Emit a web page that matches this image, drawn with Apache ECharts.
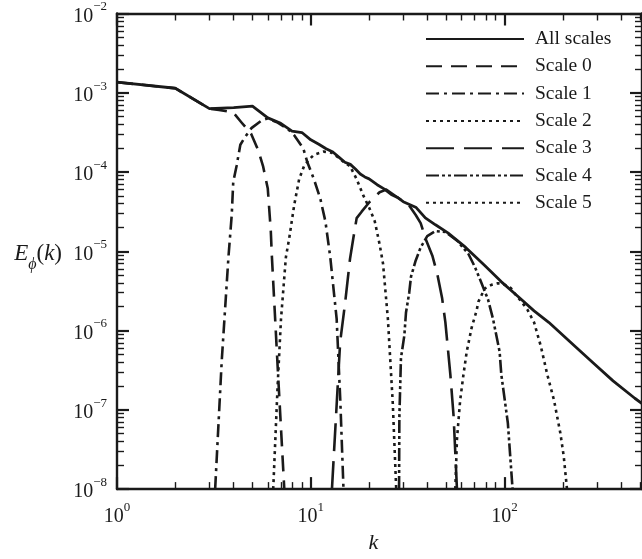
<!DOCTYPE html>
<html>
<head>
<meta charset="utf-8">
<script src="https://cdn.jsdelivr.net/npm/echarts@6/dist/echarts.min.js"></script>
<style>
  html, body { margin: 0; padding: 0; background: #fff; }
  #chart { width: 642px; height: 559px; }
</style>
</head>
<body>
<div id="chart"></div>
<script>
// Energy spectrum E_phi(k): total and per-scale contributions, [k, E] pairs
const allScales = [
  [1, 1.36e-3], [2, 1.14e-3], [3, 6.3e-4], [4, 6.5e-4], [5, 6.78e-4], [6, 4.82e-4],
  [7, 4.12e-4], [8, 3.29e-4], [9, 3.15e-4], [10, 2.55e-4], [11, 2.24e-4], [12, 1.97e-4],
  [13, 1.79e-4], [14, 1.53e-4], [15, 1.33e-4], [16, 1.25e-4], [17, 1.09e-4], [18, 9.45e-5],
  [19, 8.67e-5], [20, 8.2e-5], [22, 6.92e-5], [24, 6.09e-5], [26, 5.21e-5], [28, 4.78e-5],
  [30, 4.22e-5], [35, 3.56e-5], [39, 2.64e-5], [44, 2.16e-5], [51, 1.71e-5], [63, 1.12e-5],
  [79, 6.64e-6], [96, 4.15e-6], [117, 2.71e-6], [142, 1.77e-6], [169, 1.27e-6], [227, 6.57e-7],
  [287, 3.9e-7], [363, 2.32e-7], [470, 1.4e-7], [512, 1.2e-7]
];
const scale0 = [
  [1, 1.36e-3], [2, 1.14e-3], [3, 6.3e-4], [3.36, 6.08e-4], [3.98, 5.64e-4], [4.38, 4.25e-4],
  [4.92, 3.05e-4], [5.34, 1.92e-4], [5.67, 1.19e-4], [6.0, 6.18e-5], [6.22, 1.78e-5],
  [6.29, 9.2e-6], [6.75, 3.4e-7], [7.3, 1.0e-8]
];
const scale1 = [
  [3.21, 1.0e-8], [3.47, 4.1e-7], [3.76, 8.5e-6], [3.91, 2.9e-5], [3.98, 7.5e-5], [4.14, 1.19e-4],
  [4.33, 2.21e-4], [4.58, 2.77e-4], [4.94, 3.58e-4], [5.55, 4.43e-4], [6.0, 4.75e-4],
  [6.75, 4.2e-4], [7.6, 3.5e-4], [8.21, 2.91e-4], [9.16, 1.97e-4], [9.6, 1.33e-4],
  [10.38, 8.13e-5], [11.2, 4.61e-5], [11.9, 2.38e-5], [12.6, 8.5e-6], [13.6, 1.4e-6],
  [14.2, 1.32e-7], [14.75, 1.0e-8]
];
const scale2 = [
  [6.4, 1.0e-8], [6.75, 2.12e-7], [7.02, 1.4e-6], [7.44, 8.43e-6], [7.75, 1.49e-5],
  [8.21, 3.82e-5], [8.71, 8.13e-5], [9.23, 1.19e-4], [9.79, 1.43e-4], [10.38, 1.65e-4],
  [11.67, 1.81e-4], [12.86, 1.75e-4], [14, 1.5e-4], [15, 1.3e-4], [15.94, 1.19e-4],
  [17.25, 8.13e-5], [18.66, 5.07e-5], [20.1, 3.47e-5], [21.4, 2.38e-5], [22.65, 1.23e-5],
  [23.6, 6.97e-6], [25.0, 1.4e-6], [26.5, 1.2e-7], [27.6, 1.0e-8]
];
const scale3 = [
  [12.86, 1.0e-8], [13.64, 1.32e-7], [14.18, 7.21e-7], [15.04, 2.24e-6], [15.94, 8.03e-6],
  [16.6, 1.49e-5], [17.25, 2.62e-5], [18.3, 3.16e-5], [20.1, 4.19e-5], [22.65, 5.56e-5],
  [24.5, 6.0e-5], [27.6, 4.92e-5], [32.1, 3.82e-5], [34.8, 2.87e-5], [36.9, 2.27e-5],
  [39.2, 1.42e-5], [42.4, 8.8e-6], [44.9, 5.25e-6], [47.6, 2.58e-6], [49.5, 1.27e-6],
  [52.5, 2.81e-7], [54.6, 8.2e-8], [56.8, 1.0e-8]
];
const scale4 = [
  [28.55, 1.0e-8], [28.65, 8.0e-8], [29.2, 4.5e-7], [30.4, 8.7e-7], [31.0, 1.69e-6],
  [32.2, 2.98e-6], [32.9, 4.78e-6], [34.8, 7.66e-6], [36.9, 1.12e-5], [39.9, 1.55e-5],
  [44.0, 1.8e-5], [49.5, 1.75e-5], [57, 1.36e-5], [65.1, 9.25e-6], [70.3, 6.34e-6],
  [76.1, 3.95e-6], [82.2, 2.46e-6], [87.2, 1.4e-6], [94.3, 5.4e-7], [96.2, 2.8e-7],
  [104, 6.8e-8], [110, 1.0e-8]
];
const scale5 = [
  [55.7, 1.0e-8], [56.8, 4.25e-8], [59.0, 1.32e-7], [61.4, 2.81e-7], [63.8, 5.43e-7],
  [67.7, 1.1e-6], [71.8, 1.8e-6], [73.2, 2.3e-6], [79.1, 3.4e-6], [85.5, 3.77e-6],
  [92.3, 3.95e-6], [100, 3.8e-6], [107.9, 3.43e-6], [112, 2.98e-6], [117, 2.65e-6],
  [131, 1.85e-6], [142, 1.27e-6], [154, 6.3e-7], [166, 2.81e-7], [180, 1.32e-7],
  [194, 5.1e-8], [202, 2.6e-8], [210, 1.0e-8]
];

const seriesNames = ['All scales', 'Scale 0', 'Scale 1', 'Scale 2', 'Scale 3', 'Scale 4', 'Scale 5'];
const seriesData = [allScales, scale0, scale1, scale2, scale3, scale4, scale5];
const dashPatterns = ['solid', [16, 9], [13, 5, 3, 5], [3, 4], [28, 10], [13, 3, 3, 3, 3, 3], [3, 4]];

// Axis tick positions (decades and in-between multiples)
const xMajorTicks = [1, 10, 100];
const xMinorTicks = [2, 3, 4, 5, 6, 7, 8, 9, 20, 30, 40, 50, 60, 70, 80, 90, 200, 300, 400, 500];
const yExponents = [-8, -7, -6, -5, -4, -3, -2];
const yMajorTicks = yExponents.map(e => Math.pow(10, e));
const yMinorTicks = [];
yExponents.slice(0, -1).forEach(e => {
  for (let m = 2; m <= 9; m++) yMinorTicks.push(m * Math.pow(10, e));
});

const INK = '#1a1a1a';
const SERIF = '"Liberation Serif", "DejaVu Serif", serif';

function powLabel(v) {
  const e = Math.round(Math.log10(v));
  const s = e < 0 ? '\u2212' + (-e) : String(e);
  return '{b|10}{s|' + s + '}';
}
const powRich = {
  b: { fontFamily: SERIF, fontSize: 20, color: INK, lineHeight: 26, verticalAlign: 'bottom' },
  s: { fontFamily: SERIF, fontSize: 13, color: INK, lineHeight: 18, verticalAlign: 'top' }
};

const chart = echarts.init(document.getElementById('chart'), null, { renderer: 'canvas' });

function xAx(pos, major, withLabels) {
  return {
    type: 'log', logBase: 10, min: 1, max: 512, position: pos,
    axisLine: { show: major, onZero: false, lineStyle: { color: INK, width: 2.4 } },
    axisTick: {
      show: true, inside: true, length: major ? 12 : 7,
      customValues: major ? xMajorTicks : xMinorTicks,
      lineStyle: { color: INK, width: major ? 2.2 : 1.4 }
    },
    axisLabel: withLabels ? {
      show: true, margin: 12, customValues: xMajorTicks,
      formatter: powLabel, rich: powRich
    } : { show: false },
    splitLine: { show: false },
    minorTick: { show: false }
  };
}
function yAx(pos, major, withLabels) {
  return {
    type: 'log', logBase: 10, min: 1e-8, max: 1e-2, position: pos,
    axisLine: { show: major, onZero: false, lineStyle: { color: INK, width: 2.4 } },
    axisTick: {
      show: true, inside: true, length: major ? 12 : 7,
      customValues: major ? yMajorTicks : yMinorTicks,
      lineStyle: { color: INK, width: major ? 2.2 : 1.4 }
    },
    axisLabel: withLabels ? {
      show: true, margin: 10, customValues: yMajorTicks,
      formatter: powLabel, rich: powRich
    } : { show: false },
    splitLine: { show: false },
    minorTick: { show: false }
  };
}

const xAxes = [xAx('bottom', true, true), xAx('bottom', false, false), xAx('top', true, false), xAx('top', false, false)];
xAxes[0].name = 'k';
xAxes[0].nameLocation = 'middle';
xAxes[0].nameGap = 41;
xAxes[0].nameTextStyle = { fontFamily: SERIF, fontStyle: 'italic', fontSize: 22, color: INK, padding: [0, 12, 0, 0] };

const yAxes = [yAx('left', true, true), yAx('left', false, false), yAx('right', true, false), yAx('right', false, false)];
yAxes[0].name = '{i|E}{sub|\u03d5}{n|(}{i|k}{n|)}';
yAxes[0].nameLocation = 'middle';
yAxes[0].nameRotate = 0;
yAxes[0].nameGap = 55;
yAxes[0].nameTextStyle = {
  color: INK,
  padding: [12, 0, 0, 0],
  rich: {
    i: { fontFamily: SERIF, fontStyle: 'italic', fontSize: 23, color: INK, lineHeight: 30, verticalAlign: 'top' },
    n: { fontFamily: SERIF, fontSize: 23, color: INK, lineHeight: 30, verticalAlign: 'top' },
    sub: { fontFamily: SERIF, fontStyle: 'italic', fontSize: 16, color: INK, lineHeight: 30, verticalAlign: 'bottom' }
  }
};

const series = seriesNames.map((name, i) => ({
  name: name,
  type: 'line',
  xAxisIndex: 0,
  yAxisIndex: 0,
  data: seriesData[i],
  symbol: 'none',
  showSymbol: false,
  smooth: false,
  clip: true,
  silent: true,
  z: i === 0 ? 3 : 2,
  itemStyle: { color: INK },
  lineStyle: { color: INK, width: i === 0 ? 2.8 : 2.6, type: dashPatterns[i], cap: 'butt', join: 'round' }
}));

chart.setOption({
  animation: false,
  backgroundColor: '#ffffff',
  grid: { left: 117, top: 13.5, right: -7, bottom: 58, containLabel: false },
  legend: {
    data: seriesNames,
    orient: 'vertical',
    left: 425,
    top: 29,
    padding: 0,
    itemWidth: 98,
    itemHeight: 20,
    itemGap: 7.3,
    itemStyle: { opacity: 0 },
    textStyle: { fontFamily: SERIF, fontSize: 19.5, color: INK, lineHeight: 20, padding: [0, 0, 0, 6] },
    inactiveColor: INK,
    selectedMode: false
  },
  xAxis: xAxes,
  yAxis: yAxes,
  series: series
});
</script>
</body>
</html>
